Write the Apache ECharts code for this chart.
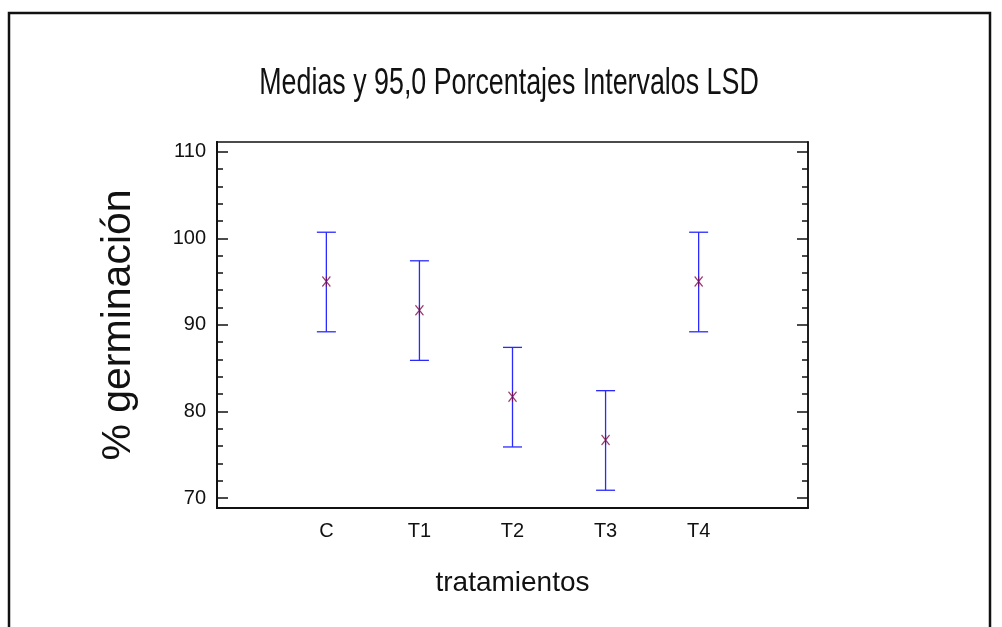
<!DOCTYPE html>
<html>
<head>
<meta charset="utf-8">
<script src="https://cdn.jsdelivr.net/npm/echarts@6/dist/echarts.min.js"></script>
<style>
  html, body { margin: 0; padding: 0; background: #fff; }
  #chart { width: 1002px; height: 627px; }
</style>
</head>
<body>
<div id="chart"></div>
<script>
  // datos
  const categories = ['C', 'T1', 'T2', 'T3', 'T4'];
  const means = [95.0, 91.7, 81.7, 76.7, 95.0];
  const lower = [89.2, 85.9, 75.9, 70.9, 89.2];
  const upper = [100.7, 97.4, 87.4, 82.4, 100.7];
  const majorTicks = [70, 80, 90, 100, 110];
  const minorTicks = [72, 74, 76, 78, 82, 84, 86, 88, 92, 94, 96, 98, 102, 104, 106, 108];

  const font = "'Liberation Sans', Arial, sans-serif";
  const yMin = 68.85, yMax = 111.12;

  function yAxisFor(pos, ticks, len, withLabel) {
    return {
      type: 'value',
      position: pos,
      offset: 0,
      min: yMin,
      max: yMax,
      axisLine: { show: true, onZero: false, lineStyle: { color: '#111', width: pos === 'left' ? 2 : 1.5 } },
      axisTick: { show: true, inside: true, length: len, customValues: ticks,
                  lineStyle: { color: '#111', width: 1.5 } },
      axisLabel: withLabel
        ? { show: true, customValues: majorTicks, margin: 11, fontFamily: font, fontSize: 20, color: '#111' }
        : { show: false },
      splitLine: { show: false }
    };
  }

  const chart = echarts.init(document.getElementById('chart'));

  const option = {
    animation: false,
    backgroundColor: '#fff',
    graphic: [{
      type: 'rect',
      shape: { x: 9, y: 13, width: 981, height: 700 },
      style: { fill: 'none', stroke: '#111', lineWidth: 2.5 },
      silent: true
    }, {
      // titulo, estrechado como en el original
      type: 'text',
      x: 509,
      y: 84,
      scaleX: 0.725,
      style: {
        text: 'Medias y 95,0 Porcentajes Intervalos LSD',
        x: 0, y: 0,
        align: 'center',
        verticalAlign: 'middle',
        font: "37px 'Liberation Sans', Arial, sans-serif",
        fill: '#111'
      },
      silent: true
    }],
    grid: { left: 217, top: 142, right: 194, bottom: 119 },
    xAxis: [{
      type: 'value',
      min: -0.175,
      max: 6.175,
      position: 'bottom',
      offset: 0,
      name: 'tratamientos',
      nameLocation: 'middle',
      nameGap: 61,
      nameTextStyle: { fontFamily: font, fontSize: 28, color: '#111' },
      axisLine: { show: true, onZero: false, lineStyle: { color: '#111', width: 2 } },
      axisTick: { show: false },
      axisLabel: {
        customValues: [1, 2, 3, 4, 5],
        margin: 13,
        fontFamily: font,
        fontSize: 20,
        color: '#111',
        formatter: v => categories[Math.round(v) - 1] || ''
      },
      splitLine: { show: false }
    }, {
      type: 'value',
      min: -0.175,
      max: 6.175,
      position: 'top',
      offset: 0,
      axisLine: { show: true, onZero: false, lineStyle: { color: '#111', width: 1.5 } },
      axisTick: { show: false },
      axisLabel: { show: false },
      splitLine: { show: false }
    }],
    yAxis: [
      Object.assign(yAxisFor('left', majorTicks, 11, true), {
        name: '% germinación',
        nameLocation: 'middle',
        nameGap: 78,
        nameTextStyle: { fontFamily: font, fontSize: 41, color: '#111' }
      }),
      yAxisFor('left', minorTicks, 6, false),
      yAxisFor('right', majorTicks, 11, false),
      yAxisFor('right', minorTicks, 6, false)
    ],
    series: [{
      type: 'custom',
      xAxisIndex: 0,
      yAxisIndex: 0,
      data: categories.map((c, i) => [i + 1, lower[i], upper[i]]),
      renderItem: function (params, api) {
        const lo = api.coord([api.value(0), api.value(1)]);
        const hi = api.coord([api.value(0), api.value(2)]);
        const half = 9.5;
        const st = { stroke: '#2a2aff', lineWidth: 1.3 };
        return {
          type: 'group',
          children: [
            { type: 'line', shape: { x1: hi[0], y1: hi[1], x2: lo[0], y2: lo[1] }, style: st },
            { type: 'line', shape: { x1: hi[0] - half, y1: hi[1], x2: hi[0] + half, y2: hi[1] }, style: st },
            { type: 'line', shape: { x1: lo[0] - half, y1: lo[1], x2: lo[0] + half, y2: lo[1] }, style: st }
          ]
        };
      }
    }, {
      type: 'scatter',
      xAxisIndex: 0,
      yAxisIndex: 0,
      data: means.map((m, i) => [i + 1, m]),
      symbol: 'path://M0,0L10,12M10,0L0,12M5,0L5,12',
      symbolSize: [8, 10],
      itemStyle: { color: 'none', borderColor: '#7a0a48', borderWidth: 1.3 },
      z: 5
    }]
  };

  chart.setOption(option);
</script>
</body>
</html>
